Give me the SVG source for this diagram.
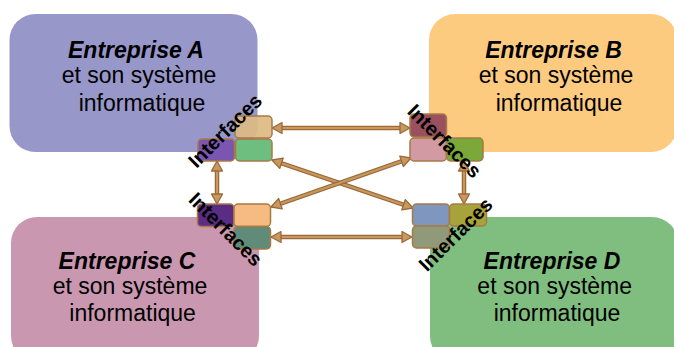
<svg xmlns="http://www.w3.org/2000/svg" width="674" height="347" viewBox="0 0 674 347">
<style>
.t{font-family:"Liberation Sans",Arial,sans-serif;font-size:23px;fill:#000;text-anchor:middle}
.h{font-weight:bold;font-style:italic}
.ifc{font-family:"Liberation Sans",Arial,sans-serif;font-size:20px;font-weight:bold;fill:#000;text-anchor:middle}
.sq{stroke:#A87A45;stroke-width:1.5}
.out{stroke:#9A6A38;stroke-width:4.5;fill:none}
.in{stroke:#C9985F;stroke-width:2;fill:none;marker-start:url(#ah);marker-end:url(#ah)}
</style>
<defs>
<marker id="ah" markerUnits="userSpaceOnUse" markerWidth="14" markerHeight="14" refX="10" refY="0" viewBox="-1 -7 12 14" orient="auto-start-reverse" overflow="visible">
<polygon points="0,-5.5 10,0 0,5.5" fill="#C9985F" stroke="#9A6A38" stroke-width="1.3" stroke-linejoin="round"/>
</marker>
</defs>
<rect width="674" height="347" fill="#fff"/>
<g id="entrepriseA">
<rect x="9.5" y="14" width="248" height="138" rx="26" fill="#9897CA"/>
<text class="t h" x="136" y="58">Entreprise A</text>
<text class="t" x="139" y="83">et son système</text>
<text class="t" x="142" y="111">informatique</text>
</g>
<g id="entrepriseB">
<rect x="429" y="14" width="248" height="138" rx="26" fill="#FDCB80"/>
<text class="t h" x="553.6" y="58">Entreprise B</text>
<text class="t" x="556" y="83">et son système</text>
<text class="t" x="559" y="111">informatique</text>
</g>
<g id="entrepriseC">
<rect x="11" y="217" width="248" height="145" rx="26" fill="#CA97B0"/>
<text class="t h" x="127" y="269">Entreprise C</text>
<text class="t" x="130" y="294">et son système</text>
<text class="t" x="132.6" y="321">informatique</text>
</g>
<g id="entrepriseD">
<rect x="430" y="217" width="248" height="145" rx="26" fill="#80BE7F"/>
<text class="t h" x="552" y="269">Entreprise D</text>
<text class="t" x="554.7" y="294">et son système</text>
<text class="t" x="557" y="321">informatique</text>
</g>
<g id="connectors">
<line class="out" x1="280" y1="128" x2="402" y2="128"/>
<line class="in" x1="272" y1="128" x2="410" y2="128"/>
<line class="out" x1="279" y1="237" x2="404" y2="237"/>
<line class="in" x1="271" y1="237" x2="412" y2="237"/>
<line class="out" x1="217" y1="169" x2="217" y2="196"/>
<line class="in" x1="217" y1="161" x2="217" y2="204"/>
<line class="out" x1="464" y1="169" x2="464" y2="196"/>
<line class="in" x1="464" y1="161" x2="464" y2="204"/>
<line class="out" x1="279.6" y1="162.6" x2="405.4" y2="205.4"/>
<line class="in" x1="272" y1="160" x2="413" y2="208"/>
<line class="out" x1="403.4" y1="160.6" x2="278.6" y2="204.4"/>
<line class="in" x1="411" y1="158" x2="271" y2="207"/>
</g>
<g id="interfacesA">
<rect class="sq" x="235" y="116" width="37" height="22" rx="4" fill="#DDBA83" fill-opacity="0.92"/>
<rect class="sq" x="198" y="139" width="36.5" height="22" rx="4" fill="#7B56B0"/>
<rect class="sq" x="235.5" y="139" width="36.5" height="22" rx="4" fill="#6DBE7F"/>
<text class="ifc" transform="translate(230,135.5) rotate(-45)">Interfaces</text>
</g>
<g id="interfacesB">
<rect class="sq" x="410" y="114" width="36.5" height="23" rx="4" fill="#9A505E"/>
<rect class="sq" x="410" y="138" width="36.5" height="23" rx="4" fill="#D29BA3"/>
<rect class="sq" x="446.5" y="138" width="36.5" height="23" rx="4" fill="#7BA838"/>
<text class="ifc" transform="translate(439.6,145.9) rotate(45)">Interfaces</text>
</g>
<g id="interfacesC">
<rect class="sq" x="197.5" y="204" width="36.5" height="22.5" rx="4" fill="#5B2C83"/>
<rect class="sq" x="234" y="204" width="36.5" height="22.5" rx="4" fill="#F5BB80"/>
<rect class="sq" x="234" y="226.5" width="36.5" height="22.5" rx="4" fill="#5F8B78"/>
<text class="ifc" transform="translate(220.8,234.2) rotate(45)">Interfaces</text>
</g>
<g id="interfacesD">
<rect class="sq" x="412.5" y="204" width="37" height="22" rx="4" fill="#7F96BE"/>
<rect class="sq" x="449.5" y="204" width="37" height="22" rx="4" fill="#A8A23A"/>
<rect class="sq" x="412.5" y="226" width="37" height="22" rx="4" fill="#909A7B"/>
<text class="ifc" transform="translate(460.5,239.2) rotate(-45)">Interfaces</text>
</g>
</svg>
